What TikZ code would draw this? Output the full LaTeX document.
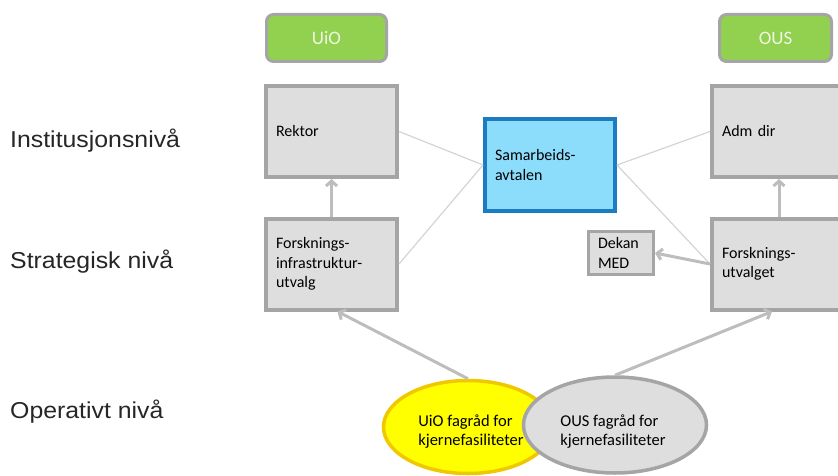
\documentclass[tikz,border=0pt]{standalone}
\usepackage{fontspec}
\setmainfont{Carlito}
\newfontfamily\labfont[FakeStretch=1.08]{Liberation Sans}
\usetikzlibrary{shapes.geometric,arrows.meta}
\definecolor{boxfill}{HTML}{DEDEDE}
\definecolor{boxline}{HTML}{A5A5A5}
\definecolor{grn}{HTML}{92D050}
\definecolor{grntext}{HTML}{EEF8E2}
\definecolor{bluefill}{HTML}{8CDCFC}
\definecolor{blueline}{HTML}{1C7CC2}
\definecolor{yel}{HTML}{FFFF00}
\definecolor{yelline}{HTML}{F0C800}
\definecolor{conn}{HTML}{D4D4D4}
\definecolor{arrc}{HTML}{BDBDBD}
\begin{document}
\begin{tikzpicture}[x=1pt,y=-1pt,
  box/.style={draw=boxline, fill=boxfill, line width=4pt, minimum width=131pt, minimum height=91pt,
    text width=111pt, inner xsep=10pt, inner ysep=0pt, align=left, font=\fontsize{16}{19.5}\selectfont},
  rbox/.style={box, minimum width=150pt, text width=130pt},
  smallbox/.style={draw=boxline, fill=boxfill, line width=3pt, minimum width=65pt, minimum height=43pt,
    text width=46pt, inner xsep=9.5pt, inner ysep=0pt, align=left, font=\fontsize{16}{19.5}\selectfont},
  bluebox/.style={box, draw=blueline, fill=bluefill, minimum width=130pt, minimum height=92pt, text width=110pt},
  orgbox/.style={draw=boxline, fill=grn, line width=3pt, rounded corners=7pt, inner sep=0pt,
    text=grntext, font=\fontsize{19}{22}\selectfont, minimum height=47pt},
  oval/.style={ellipse, line width=3.5pt, inner sep=0pt},
  ovaltext/.style={inner sep=0pt, align=left, font=\fontsize{16.5}{19}\selectfont},
  level/.style={anchor=base west, inner sep=0pt, font=\labfont\fontsize{23}{27}\selectfont, text=black!85},
  conline/.style={draw=conn, line width=1.2pt},
  arr/.style={draw=arrc, line width=3pt, -{Straight Barb[length=5pt,width=11pt]}}
  ]
\useasboundingbox (0,0) rectangle (838,476);
\clip (0,0) rectangle (838,476);

% level labels
\node[level] (lab1) at (10,148) {Institusjonsnivå};
\node[level] (lab2) at (10,268) {Strategisk nivå};
\node[level] (lab3) at (10,418) {Operativt nivå};

% organisation headers
\node[orgbox, minimum width=120pt] (uio) at (326.5,38) {UiO};
\node[orgbox, minimum width=112pt] (ous) at (775.5,38) {OUS};

% boxes
\node[box] (rektor) at (331.5,131.5) {Rektor};
\node[box] (fi) at (331.5,264) {Forsknings-\\infrastruktur-\\utvalg};
\node[bluebox] (sam) at (550,165) {Samarbeids-\\avtalen};
\node[rbox] (adm) at (787,131.5) {Adm dir};
\node[rbox] (fu) at (787,264) {Forsknings-\\utvalget};
\node[smallbox] (dekan) at (621,253) {Dekan\\MED};

% ellipses
\node[oval, draw=yelline, fill=yel, minimum width=169pt, minimum height=93pt] (uioe) at (468,427) {};
\node[ovaltext] (uiot) at (471,432) {UiO fagråd for\\kjernefasiliteter};
\node[oval, draw=boxline, fill=boxfill, minimum width=183pt, minimum height=96pt] (ouse) at (615,425) {};
\node[ovaltext] (oust) at (613,432) {OUS fagråd for\\kjernefasiliteter};

% thin connectors
\draw[conline] (rektor.east) -- (sam.west);
\draw[conline] (fi.east) -- (sam.west);
\draw[conline] (sam.east) -- (adm.west);
\draw[conline] (sam.east) -- (fu.west);

% arrows
\draw[arr] (fi.north) -- (rektor.south);
\draw[arr] ([xshift=-8pt]fu.north) -- ([xshift=-8pt]adm.south);
\draw[arr] (fu.west) -- (dekan.east);
\draw[arr] (uioe.north) -- ([xshift=6pt]fi.south);
\draw[arr] (ouse.north) -- ([xshift=-15pt]fu.south);
\end{tikzpicture}
\end{document}
